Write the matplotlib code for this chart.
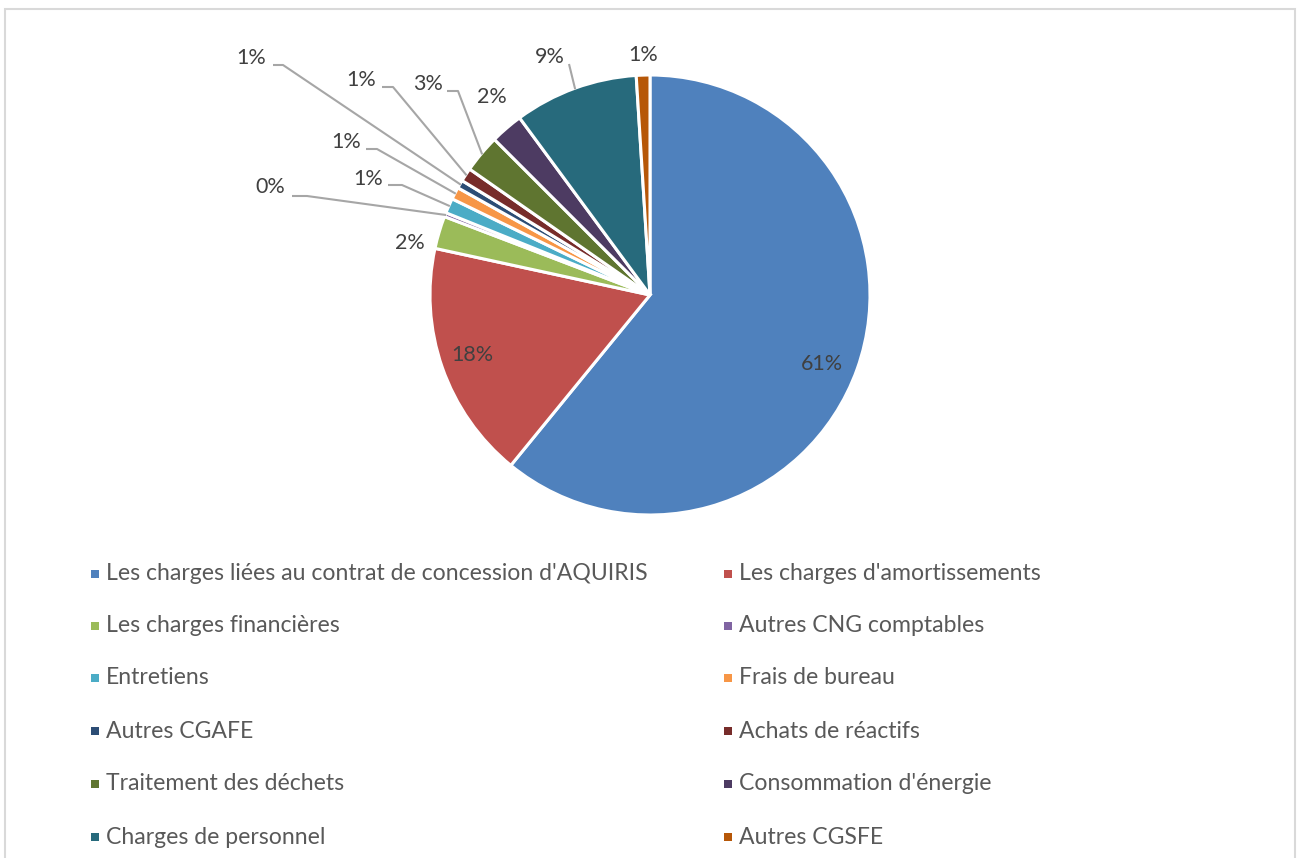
import matplotlib
matplotlib.use("Agg")
import matplotlib.pyplot as plt
from matplotlib.patches import Rectangle
import numpy as np

plt.rcParams['font.family'] = ['Lato', 'DejaVu Sans']

categories = ["Les charges liées au contrat de concession d'AQUIRIS",
              "Les charges d'amortissements",
              "Les charges financières",
              "Autres CNG comptables",
              "Entretiens",
              "Frais de bureau",
              "Autres CGAFE",
              "Achats de réactifs",
              "Traitement des déchets",
              "Consommation d'énergie",
              "Charges de personnel",
              "Autres CGSFE"]
shares = [60.9, 17.5, 2.4, 0.3, 1.1, 0.9, 0.6, 1.0, 2.8, 2.4, 9.1, 1.0]
colors = ["#4F81BD", "#C0504D", "#9BBB59", "#8064A2", "#4BACC6", "#F79646",
          "#2C4D75", "#772C2A", "#5F7530", "#4D3B62", "#276A7C", "#B65708"]

# label placement in pixels (x, y from top): text centre, then leader start / elbow x
label_pos = [(822, 364), (472, 355), (410, 243), (270, 187), (368, 179), (346, 142),
             (251, 58), (361, 80), (428, 84), (492, 97), (550, 57), (643, 55)]
leaders = {3: (292, 196, 307), 4: (388, 185, 402), 5: (366, 149, 377),
           6: (273, 65, 283), 7: (382, 87, 393), 8: (447, 91, 458),
           10: (569, 64, 569)}

W, H = 1302, 858
fig = plt.figure(figsize=(W / 100, H / 100), dpi=100)
ax = fig.add_axes([0, 0, 1, 1])

cx, cy, r = 650, H - 295, 220
wedges, _ = ax.pie(shares, colors=colors, startangle=90, counterclock=False,
                   center=(cx, cy), radius=r,
                   wedgeprops=dict(edgecolor='white', linewidth=2.2))

ax.set_xlim(0, W)
ax.set_ylim(0, H)
ax.set_aspect('equal')
ax.axis('off')

total = sum(shares)
for i, w in enumerate(wedges):
    pct = shares[i] / total * 100
    tx, ty = label_pos[i]
    ax.text(tx, H - ty, "%d%%" % round(pct), ha='center', va='center',
            fontsize=15.5, color='#404040')
    if i in leaders:
        x0, y0, xe = leaders[i]
        mid = np.deg2rad((w.theta1 + w.theta2) / 2)
        px = cx + (r - 1) * np.cos(mid)
        py = cy + (r - 1) * np.sin(mid)
        ax.plot([x0, xe, px], [H - y0, H - y0, py], color='#A6A6A6', lw=1.5,
                solid_capstyle='butt')

# legend, two entries per row
row_y = [574, 626, 678, 731, 784, 837]
col_x = [95, 728]
for i, name in enumerate(categories):
    x = col_x[i % 2]
    y = H - row_y[i // 2]
    ax.add_patch(Rectangle((x - 4, y - 4), 8, 8, facecolor=colors[i], edgecolor='none'))
    ax.text(x + 11, y, name, ha='left', va='center', fontsize=16.6, color='#595959')

# chart frame
ax.add_patch(Rectangle((5, -10), 1290, H - 9 + 10, facecolor='none',
                       edgecolor='#D9D9D9', lw=1.5))

fig.savefig("out.png", dpi=100, facecolor='white')
